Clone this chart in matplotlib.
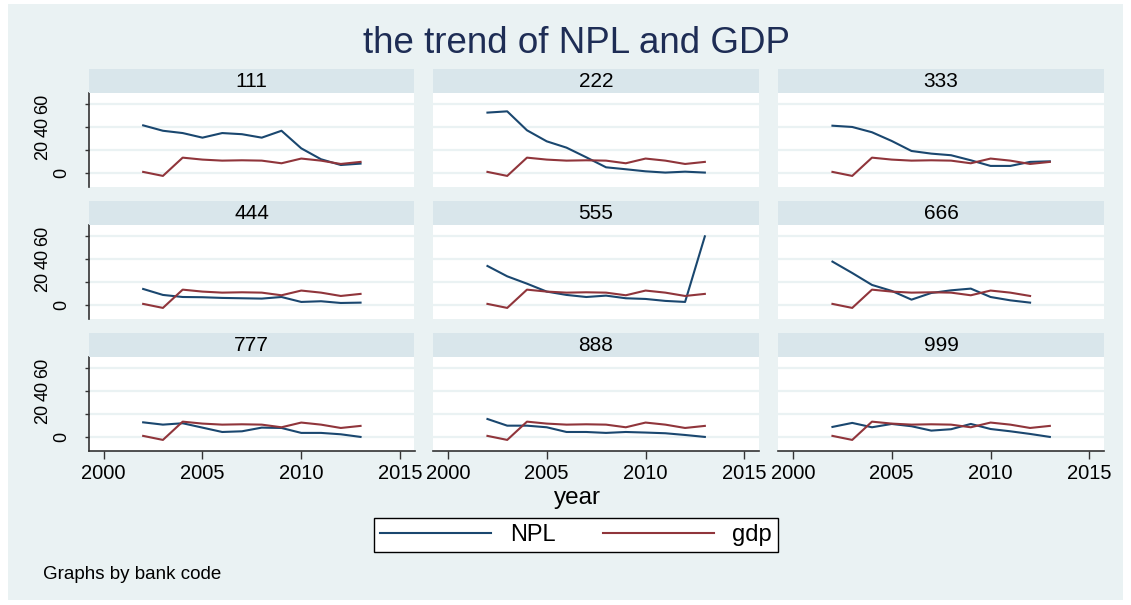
import matplotlib
matplotlib.use("Agg")
import matplotlib.pyplot as plt
from matplotlib.patches import Rectangle
from matplotlib.transforms import ScaledTranslation

plt.rcParams['font.family'] = ['Liberation Sans', 'DejaVu Sans']

# data
years = [2002, 2003, 2004, 2005, 2006, 2007, 2008, 2009, 2010, 2011, 2012, 2013]
gdp = [1.2, -2.3, 13.6, 11.9, 11.0, 11.3, 11.0, 8.7, 12.8, 11.0, 8.1, 9.9]

bank_codes = ['111', '222', '333', '444', '555', '666', '777', '888', '999']
npl_111 = [41.7, 37.0, 35.0, 31.0, 35.0, 34.0, 31.0, 37.0, 21.7, 12.2, 7.2, 8.4]
npl_222 = [52.8, 53.9, 37.4, 27.8, 22.3, 13.9, 5.2, 3.5, 1.7, 0.6, 1.4, 0.6]
npl_333 = [41.4, 40.3, 35.7, 28.1, 19.4, 17.1, 15.7, 11.3, 6.4, 6.4, 9.9, 10.4]
npl_444 = [14.2, 9.0, 7.2, 7.0, 6.4, 6.1, 5.8, 7.2, 2.9, 3.5, 2.0, 2.3]
npl_555 = [34.2, 25.2, 18.8, 11.9, 9.0, 7.2, 8.4, 6.1, 5.5, 3.8, 2.9, 60.0]
npl_666 = [38.0, 28.1, 17.7, 12.5, 4.9, 10.7, 13.0, 14.5, 7.2, 4.3, 2.3]
npl_777 = [13.0, 11.0, 12.2, 8.4, 4.6, 5.2, 8.4, 8.1, 3.8, 3.8, 2.6, 0.3]
npl_888 = [15.9, 10.1, 10.1, 8.7, 4.6, 4.6, 3.8, 4.6, 4.1, 3.5, 2.0, 0.3]
npl_999 = [9.0, 12.5, 8.7, 11.6, 9.6, 5.8, 7.0, 11.6, 7.2, 5.2, 2.9, 0.3]
npl_all = [npl_111, npl_222, npl_333, npl_444, npl_555, npl_666,
           npl_777, npl_888, npl_999]

yticks = [0, 20, 40, 60]
xticks = [2000, 2005, 2010, 2015]

W, H = 1131, 605
navy = '#1A476F'
maroon = '#90353B'
bg = '#EAF2F3'
strip_col = '#D9E6EB'

fig = plt.figure(figsize=(W / 100, H / 100), dpi=100, facecolor='white')
fig.patches.append(Rectangle((8 / W, 1 - 600 / H), (1123 - 8) / W, (600 - 4) / H,
                             transform=fig.transFigure, facecolor=bg,
                             edgecolor='none', zorder=-5))


def box(x, y, w, h):
    return [x / W, 1 - (y + h) / H, w / W, h / H]


col_x = [89, 433.3, 778.3]
row_y = [93.3, 225.3, 357.3]
pw, ph, sh = 325.5, 93.3, 24

for i, code in enumerate(bank_codes):
    r, c = divmod(i, 3)
    ax = fig.add_axes(box(col_x[c], row_y[r], pw, ph))
    npl = npl_all[i]
    n = len(npl)
    l1, = ax.plot(years[:n], npl, color=navy, lw=1.5)
    l2, = ax.plot(years[:n], gdp[:n], color=maroon, lw=1.5)
    ax.set_xlim(1999.26, 2015.73)
    ax.set_ylim(-11.6, 69.6)
    ax.set_facecolor('white')
    ax.set_yticks(yticks)
    ax.set_xticks(xticks)
    ax.grid(axis='y', color=bg, lw=1.6)
    ax.set_axisbelow(True)
    for s in ax.spines.values():
        s.set_visible(False)
    if c == 0:
        ax.spines['left'].set_visible(True)
        ax.spines['left'].set_color('#333333')
        ax.spines['left'].set_linewidth(1.2)
        ax.tick_params(axis='y', length=3, width=1, color='#333333',
                       pad=24, labelsize=13, labelrotation=90)
        for lab in ax.get_yticklabels():
            lab.set_verticalalignment('center')
            if lab.get_text() == '0':
                lab.set_transform(lab.get_transform() +
                                  ScaledTranslation(0.19, 0, fig.dpi_scale_trans))
    else:
        ax.tick_params(axis='y', left=False, labelleft=False)
    if r == 2:
        ax.spines['bottom'].set_visible(True)
        ax.spines['bottom'].set_color('#333333')
        ax.spines['bottom'].set_linewidth(1.2)
        ax.tick_params(axis='x', length=6, width=1, color='#333333',
                       pad=4, labelsize=14.5)
    else:
        ax.tick_params(axis='x', bottom=False, labelbottom=False)

    st = fig.add_axes(box(col_x[c], row_y[r] - sh, pw, sh))
    st.set_facecolor(strip_col)
    st.set_xticks([])
    st.set_yticks([])
    for s in st.spines.values():
        s.set_visible(False)
    st.text(0.5, 0.48, code, ha='center', va='center', fontsize=15,
            transform=st.transAxes)

fig.text(576.5 / W, 1 - 52.7 / H, 'the trend of NPL and GDP', ha='center',
         va='baseline', fontsize=26.5, color='#1E2D55')
fig.text(577 / W, 1 - 504 / H, 'year', ha='center', va='baseline', fontsize=17.5)
fig.text(43 / W, 1 - 579 / H, 'Graphs by bank code', ha='left', va='baseline',
         fontsize=13.5)

leg = fig.legend([l1, l2], ['NPL', 'gdp'], ncol=2, loc='center',
                 bbox_to_anchor=(576 / W, 1 - 535 / H), fontsize=17,
                 frameon=True, fancybox=False, edgecolor='black',
                 facecolor='white', framealpha=1, borderpad=0.25,
                 handlelength=4.7, handletextpad=0.8, columnspacing=2.0)
leg.get_frame().set_linewidth(1.0)

fig.savefig('out.png', dpi=100, facecolor='white')
